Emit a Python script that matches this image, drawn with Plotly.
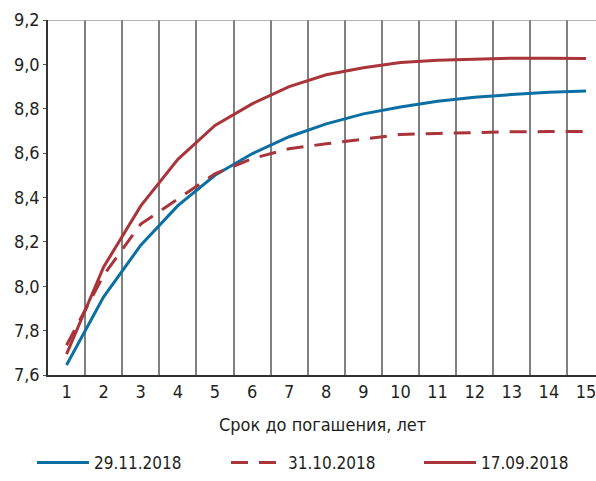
import plotly.graph_objects as go

terms = list(range(1, 16))
tick_labels = [str(t) for t in terms]
grid_vals = [t + 0.5 for t in terms[:-1]]

s_2911 = [7.645, 7.952, 8.185, 8.363, 8.500, 8.597, 8.674, 8.732, 8.777, 8.808, 8.834, 8.852, 8.864, 8.874, 8.880]
s_3110 = [7.734, 8.050, 8.280, 8.395, 8.507, 8.575, 8.620, 8.642, 8.662, 8.684, 8.689, 8.693, 8.696, 8.697, 8.697]
s_1709 = [7.694, 8.087, 8.362, 8.572, 8.725, 8.822, 8.900, 8.953, 8.985, 9.008, 9.019, 9.025, 9.028, 9.028, 9.027]

names = ["29.11.2018", "31.10.2018", "17.09.2018"]
x_title = "Срок до погашения, лет"
blue = "#0b6fa3"
red = "#a9343a"

FONT = "DejaVu Sans Condensed, Liberation Sans Narrow, sans-serif"

fig = go.Figure()
fig.add_trace(go.Scatter(x=terms, y=s_2911, name=names[0], mode="lines", legend="legend",
                         line=dict(color=blue, width=3)))
fig.add_trace(go.Scatter(x=terms, y=s_3110, name=names[1], mode="lines", legend="legend2",
                         line=dict(color=red, width=3, dash="17px,11px")))
fig.add_trace(go.Scatter(x=terms, y=s_1709, name=names[2], mode="lines", legend="legend3",
                         line=dict(color=red, width=3)))

fig.add_shape(type="line", xref="paper", yref="y", x0=0, x1=1, y0=9.2, y1=9.2,
              line=dict(color="#9a9a9a", width=1.5))

fig.add_annotation(text=x_title, xref="paper", yref="paper", x=0.5, y=-0.1396,
                   xanchor="center", yanchor="middle", showarrow=False,
                   font=dict(size=18))

leg_common = dict(orientation="h", yref="paper", xref="paper", y=-0.249, yanchor="middle",
                  xanchor="left", font=dict(size=17), itemwidth=52,
                  bgcolor="rgba(0,0,0,0)")

fig.update_layout(
    width=596, height=481,
    margin=dict(l=48, r=0, t=20, b=104),
    paper_bgcolor="white", plot_bgcolor="white",
    separators=", ",
    font=dict(family=FONT, size=18, color="#231f20"),
    showlegend=True,
    legend=dict(x=-0.0292, **leg_common),
    legend2=dict(x=0.3248, **leg_common),
    legend3=dict(x=0.677, **leg_common),
    xaxis=dict(range=[0.5, 15.27], tickmode="array", tickvals=terms, ticktext=tick_labels,
               showgrid=False, zeroline=False, automargin=False,
               ticklabeloverflow="allow",
               showline=True, linecolor="#333333", linewidth=1.5,
               ticks="",
               minor=dict(tickmode="array", tickvals=grid_vals, showgrid=True,
                          gridcolor="#808080", gridwidth=1.5, ticks="")),
    yaxis=dict(range=[7.6, 9.2], tickmode="linear", tick0=7.6, dtick=0.2, tickformat=".1f",
               showgrid=False, zeroline=False, automargin=False,
               showline=True, linecolor="#333333", linewidth=1.5,
               ticks="outside", ticklen=3, tickcolor="#555555"),
)

fig.write_html("out.html", config={"displayModeBar": False},
               post_script="document.body.style.margin='0';document.body.style.overflow='hidden';")
